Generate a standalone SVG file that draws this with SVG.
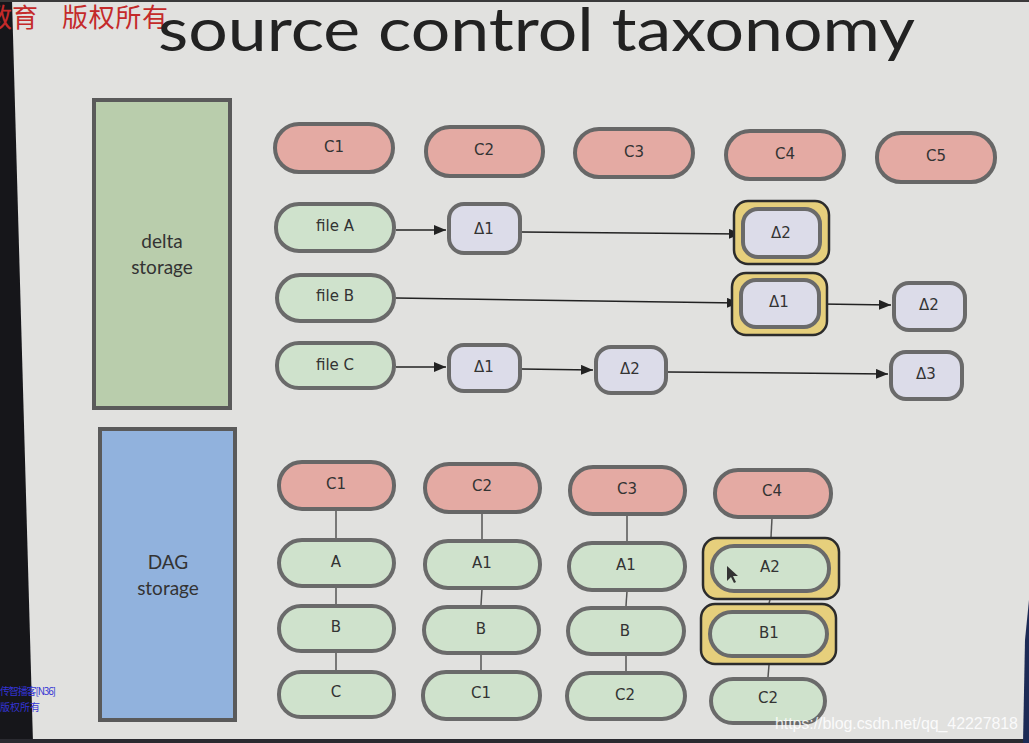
<svg xmlns="http://www.w3.org/2000/svg" width="1029" height="743" viewBox="0 0 1029 743">
<defs>
<style>
.lbl{font-family:"DejaVu Sans","Liberation Sans",sans-serif;font-size:15px;fill:#333;text-anchor:middle;dominant-baseline:central}
.big{font-family:"Lato","Open Sans",sans-serif;font-size:19px;fill:#333;text-anchor:middle}
.commit{fill:#e4aaa3;stroke:#676767;stroke-width:4}
.file{fill:#cfe2cc;stroke:#6a6a6a;stroke-width:4}
.delta{fill:#dcdce9;stroke:#6a6a6a;stroke-width:4}
.hl{fill:#e6cf7c;stroke:#2c2c2c;stroke-width:2.5}
.arrow{stroke:#222;stroke-width:1.5;fill:none;marker-end:url(#ah)}
.link{stroke:#555;stroke-width:1.5;fill:none}
.cn{font-family:"Noto Sans CJK SC",sans-serif}
</style>
<marker id="ah" viewBox="0 0 12 10" refX="12" refY="5" markerWidth="12" markerHeight="10" markerUnits="userSpaceOnUse" orient="auto">
<path d="M0,0 L12,5 L0,10 Z" fill="#222"/>
</marker>
</defs>
<rect x="0" y="0" width="1029" height="743" fill="#e1e1df"/>
<polygon points="0,0 12,0 33,743 0,743" fill="#16161a"/>
<rect x="0" y="0" width="1029" height="2" fill="#3a3a3a"/>
<rect x="0" y="739" width="1029" height="4" fill="#2a2a30"/>
<polygon points="1025,640 1029,600 1029,743 1023,743" fill="#1c2a55"/>
<text class="cn" x="-14" y="27" font-size="26" fill="#c42a2a">教育</text>
<text class="cn" x="62" y="27" font-size="26" fill="#c42a2a" textLength="106">版权所有</text>
<text x="158" y="51" font-family="Lato, Open Sans, sans-serif" font-size="60" fill="#222" textLength="757" lengthAdjust="spacingAndGlyphs">source control taxonomy</text>
<text class="cn" x="0" y="695" font-size="10" fill="#3434d4" textLength="56">传智播客[N36]</text>
<text class="cn" x="0" y="711" font-size="10" fill="#3434d4">版权所有</text>

<g id="delta-storage">
<rect x="94" y="100" width="136" height="308" fill="#b9cdac" stroke="#5a5a5a" stroke-width="4"/>
<text class="big" x="162" y="248">delta</text>
<text class="big" x="162" y="274">storage</text>
</g>
<g id="dag-storage">
<rect x="100" y="429" width="135" height="291" fill="#91b2dd" stroke="#5a5a5a" stroke-width="4"/>
<text class="big" x="168" y="569">DAG</text>
<text class="big" x="168" y="595">storage</text>
</g>

<g id="connectors">
<line class="arrow" x1="396" y1="230" x2="446" y2="230"/>
<line class="arrow" x1="522" y1="232" x2="741" y2="234"/>
<line class="arrow" x1="396" y1="298" x2="739" y2="303"/>
<line class="arrow" x1="821" y1="304" x2="891" y2="305"/>
<line class="arrow" x1="396" y1="367" x2="446" y2="367"/>
<line class="arrow" x1="522" y1="369" x2="593" y2="370"/>
<line class="arrow" x1="668" y1="372" x2="888" y2="374"/>
<line class="link" x1="336" y1="510" x2="336" y2="538"/>
<line class="link" x1="336" y1="587" x2="336" y2="604"/>
<line class="link" x1="336" y1="652" x2="336" y2="670"/>
<line class="link" x1="482" y1="513" x2="482" y2="539"/>
<line class="link" x1="482" y1="589" x2="481" y2="605"/>
<line class="link" x1="481" y1="654" x2="481" y2="670"/>
<line class="link" x1="627" y1="515" x2="627" y2="541"/>
<line class="link" x1="627" y1="591" x2="626" y2="606"/>
<line class="link" x1="626" y1="655" x2="626" y2="671"/>
<line class="link" x1="772" y1="518" x2="771" y2="537"/>
<line class="link" x1="770" y1="600" x2="769" y2="603"/>
<line class="link" x1="769" y1="665" x2="768" y2="677"/>
</g>

<g id="c1-top"><rect class="commit" x="275" y="124" width="118" height="48" rx="24"/><text class="lbl" x="334" y="147">C1</text></g>
<g id="c2-top"><rect class="commit" x="426" y="127" width="117" height="49" rx="24"/><text class="lbl" x="484" y="150">C2</text></g>
<g id="c3-top"><rect class="commit" x="575" y="129" width="118" height="48" rx="24"/><text class="lbl" x="634" y="152">C3</text></g>
<g id="c4-top"><rect class="commit" x="726" y="131" width="118" height="48" rx="24"/><text class="lbl" x="785" y="154">C4</text></g>
<g id="c5-top"><rect class="commit" x="877" y="133" width="118" height="49" rx="24"/><text class="lbl" x="936" y="156">C5</text></g>

<g id="file-a"><rect class="file" x="276" y="204" width="118" height="47" rx="23"/><text class="lbl" x="335" y="226">file A</text></g>
<g id="a-d1"><rect class="delta" x="449" y="204" width="71" height="49" rx="15"/><text class="lbl" x="484" y="229">Δ1</text></g>
<g id="a-d2"><rect class="hl" x="734" y="201" width="95" height="63" rx="14"/><rect class="delta" x="743" y="209" width="77" height="48" rx="15"/><text class="lbl" x="781" y="233">Δ2</text></g>

<g id="file-b"><rect class="file" x="277" y="275" width="117" height="46" rx="23"/><text class="lbl" x="335" y="296">file B</text></g>
<g id="b-d1"><rect class="hl" x="732" y="273" width="95" height="62" rx="14"/><rect class="delta" x="741" y="280" width="78" height="47" rx="15"/><text class="lbl" x="779" y="302">Δ1</text></g>
<g id="b-d2"><rect class="delta" x="894" y="283" width="71" height="47" rx="15"/><text class="lbl" x="929" y="305">Δ2</text></g>

<g id="file-c"><rect class="file" x="277" y="343" width="117" height="45" rx="22"/><text class="lbl" x="335" y="365">file C</text></g>
<g id="c-d1"><rect class="delta" x="449" y="345" width="71" height="46" rx="15"/><text class="lbl" x="484" y="367">Δ1</text></g>
<g id="c-d2"><rect class="delta" x="596" y="347" width="70" height="46" rx="15"/><text class="lbl" x="630" y="369">Δ2</text></g>
<g id="c-d3"><rect class="delta" x="891" y="352" width="71" height="47" rx="15"/><text class="lbl" x="926" y="374">Δ3</text></g>

<g id="dag-c1"><rect class="commit" x="279" y="462" width="115" height="47" rx="23"/><text class="lbl" x="336" y="484">C1</text></g>
<g id="dag-a"><rect class="file" x="279" y="540" width="115" height="46" rx="23"/><text class="lbl" x="336" y="562">A</text></g>
<g id="dag-b"><rect class="file" x="279" y="606" width="115" height="45" rx="22"/><text class="lbl" x="336" y="627">B</text></g>
<g id="dag-c"><rect class="file" x="279" y="672" width="115" height="45" rx="22"/><text class="lbl" x="336" y="692">C</text></g>

<g id="dag-c2"><rect class="commit" x="425" y="464" width="115" height="48" rx="24"/><text class="lbl" x="482" y="486">C2</text></g>
<g id="dag-a1"><rect class="file" x="425" y="541" width="115" height="47" rx="23"/><text class="lbl" x="482" y="563">A1</text></g>
<g id="dag-b-2"><rect class="file" x="424" y="607" width="115" height="46" rx="23"/><text class="lbl" x="481" y="629">B</text></g>
<g id="dag-c1-2"><rect class="file" x="423" y="672" width="117" height="47" rx="23"/><text class="lbl" x="481" y="693">C1</text></g>

<g id="dag-c3"><rect class="commit" x="570" y="467" width="115" height="47" rx="23"/><text class="lbl" x="627" y="489">C3</text></g>
<g id="dag-a1-3"><rect class="file" x="569" y="543" width="116" height="47" rx="23"/><text class="lbl" x="626" y="565">A1</text></g>
<g id="dag-b-3"><rect class="file" x="568" y="608" width="116" height="46" rx="23"/><text class="lbl" x="625" y="631">B</text></g>
<g id="dag-c2-3"><rect class="file" x="567" y="673" width="118" height="46" rx="23"/><text class="lbl" x="625" y="695">C2</text></g>

<g id="dag-c4"><rect class="commit" x="715" y="470" width="116" height="47" rx="23"/><text class="lbl" x="772" y="491">C4</text></g>
<g id="dag-a2"><rect class="hl" x="703" y="538" width="136" height="61" rx="14"/><rect class="file" x="712" y="546" width="117" height="45" rx="22"/><text class="lbl" x="770" y="567">A2</text></g>
<g id="dag-b1"><rect class="hl" x="701" y="604" width="135" height="60" rx="14"/><rect class="file" x="710" y="612" width="117" height="44" rx="22"/><text class="lbl" x="769" y="633">B1</text></g>
<g id="dag-c2-4"><rect class="file" x="711" y="679" width="114" height="44" rx="22"/><text class="lbl" x="768" y="698">C2</text></g>

<polygon points="727,566 727,581 731,577 734,583 736,582 733,576 738,576" fill="#333"/>

<text x="775" y="729" font-family="Liberation Sans, Arial, sans-serif" font-size="16" fill="#ffffff" fill-opacity="0.85" textLength="243">https://blog.csdn.net/qq_42227818</text>
</svg>
